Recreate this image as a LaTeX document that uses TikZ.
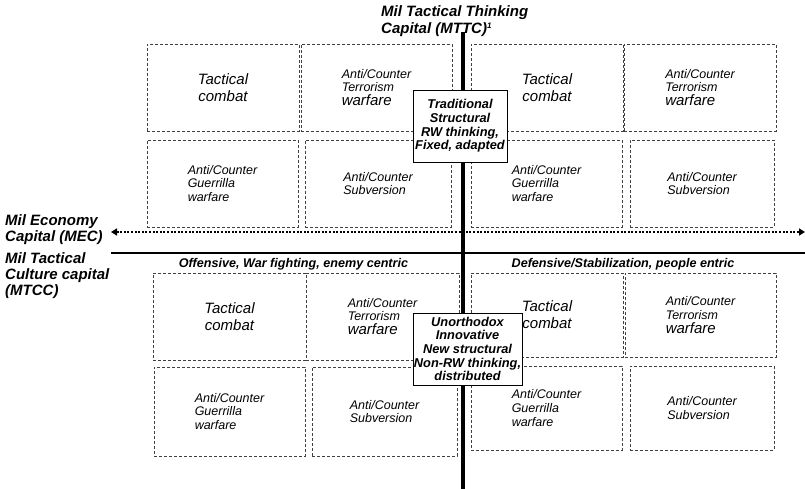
\documentclass[tikz,border=0pt]{standalone}
\usepackage{fontspec}
\setmainfont{Liberation Sans}
\usetikzlibrary{shapes,arrows.meta,positioning}
\definecolor{cellline}{rgb}{.25,.25,.25}
\newcommand{\cellbig}{\fontsize{15}{17}\selectfont}
\newcommand{\cellsmall}{\fontsize{12.5}{13.8}\selectfont}

\begin{document}
\begin{tikzpicture}[x=1pt,y=-1pt,% 1pt per pixel of the page, y going down
			every node/.style={
				align=center,		% so that "\\" breaks the lines
				inner sep=1pt
			},
			cell/.style={rectangle,draw=cellline,line width=0.6pt,dash pattern=on 3pt off 2pt,font=\cellsmall\itshape,align=left},
			tact/.style={cell,font=\cellbig\itshape,align=center},
			core/.style={rectangle,draw=black,line width=0.7pt,fill=white,minimum width=94pt,minimum height=72pt,font=\fontsize{12.8}{13.7}\selectfont\bfseries\itshape},
			axislbl/.style={font=\fontsize{15}{16}\selectfont\bfseries\itshape,align=left},
			sidelbl/.style={font=\fontsize{12.6}{13}\selectfont\bfseries\itshape}
		]
		\useasboundingbox (0,0) rectangle (805,489);
		% axes
		\node[axislbl,font=\fontsize{15}{17}\selectfont\bfseries\itshape,anchor=west](T1) at (380,21){Mil Tactical Thinking\\Capital (MTTC)\textsuperscript{\fontsize{8}{8}\selectfont 1}};
		\node[axislbl,anchor=west](L1) at (4,229.5){Mil Economy\\Capital (MEC)};
		\node[axislbl,anchor=west](L2) at (4,276){Mil Tactical\\Culture capital\\(MTCC)};
		\coordinate (Ytop) at (463,32);
		\coordinate (Ybot) at (463,489);
		\coordinate (Xl) at (111,253);
		\coordinate (Xr) at (805,253);
		\coordinate (El) at (111,232);
		\coordinate (Er) at (805,232);
		\draw[line width=3.4pt] (Ytop) -- (Ybot);
		\draw[line width=2pt] (Xl) -- (Xr);
		\draw[line width=2.8pt,dash pattern=on 2pt off 1.6pt,{Triangle[length=6pt,width=7pt]}-{Triangle[length=6pt,width=7pt]}] (El) -- (Er);
		% upper half
		\node[tact,minimum width=152pt,minimum height=87pt](B1) at (223,87.5){Tactical\\combat};
		\node[cell,minimum width=151pt,minimum height=87pt](B2) at (376.5,87.5){Anti/Counter\\Terrorism\\{\cellbig warfare}};
		\node[cell,minimum width=151pt,minimum height=87pt](B3) at (222.5,183.5){Anti/Counter\\Guerrilla\\warfare};
		\node[cell,minimum width=146pt,minimum height=87pt](B4) at (378,183.5){Anti/Counter\\Subversion};
		\node[tact,minimum width=152pt,minimum height=87pt](B5) at (547,87.5){Tactical\\combat};
		\node[cell,minimum width=152pt,minimum height=87pt](B6) at (700,87.5){Anti/Counter\\Terrorism\\{\cellbig warfare}};
		\node[cell,minimum width=151pt,minimum height=87pt](B7) at (546.5,183.5){Anti/Counter\\Guerrilla\\warfare};
		\node[cell,minimum width=144pt,minimum height=87pt](B8) at (702,183.5){Anti/Counter\\Subversion};
		% lower half
		\node[sidelbl](S1) at (293.5,264){Offensive, War fighting, enemy centric};
		\node[sidelbl](S2) at (623,264){Defensive/Stabilization, people entric};
		\node[tact,minimum width=153pt,minimum height=87pt](B9) at (229.5,316.5){Tactical\\combat};
		\node[cell,minimum width=153pt,minimum height=87pt](B10) at (382.5,316.5){Anti/Counter\\Terrorism\\{\cellbig warfare}};
		\node[cell,minimum width=151pt,minimum height=89pt](B11) at (229.5,411.5){Anti/Counter\\Guerrilla\\warfare};
		\node[cell,minimum width=145pt,minimum height=89pt](B12) at (384.5,411.5){Anti/Counter\\Subversion};
		\node[tact,minimum width=152pt,minimum height=84pt](B13) at (547,315){Tactical\\combat};
		\node[cell,minimum width=151pt,minimum height=84pt](B14) at (700.5,315){Anti/Counter\\Terrorism\\{\cellbig warfare}};
		\node[cell,minimum width=151pt,minimum height=84pt](B15) at (546.5,408){Anti/Counter\\Guerrilla\\warfare};
		\node[cell,minimum width=144pt,minimum height=84pt](B16) at (702,408){Anti/Counter\\Subversion};
		% thinking styles
		\node[core](C1) at (460,126){Traditional\\Structural\\RW thinking,\\Fixed, adapted};
		\node[core,minimum width=109pt](C2) at (467.5,349){Unorthodox\\Innovative\\New structural\\Non-RW thinking,\\distributed};
	\end{tikzpicture}
\end{document}
